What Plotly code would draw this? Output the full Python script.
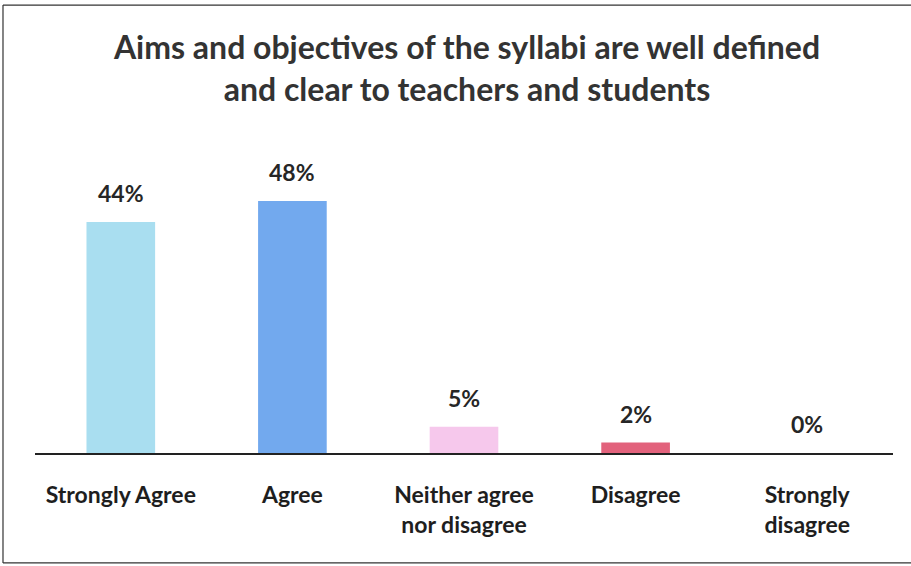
import plotly.graph_objects as go

categories = ["Strongly Agree", "Agree", "Neither agree<br>nor disagree", "Disagree", "Strongly<br>disagree"]
values = [44, 48, 5, 2, 0]
labels = ["44%", "48%", "5%", "2%", "0%"]
colors = ["#a9def0", "#72a9ee", "#f6c8ec", "#e2627c", "#cccccc"]

FONT = "Lato, 'Open Sans', sans-serif"

fig = go.Figure()
fig.add_trace(go.Bar(
    x=categories, y=values,
    marker=dict(color=colors, line=dict(width=0)),
    width=0.4,
    hoverinfo="skip",
))

for c, v, t in zip(categories, values, labels):
    fig.add_annotation(x=c, y=v, text="<b>" + t + "</b>", showarrow=False,
                       yanchor="bottom", yshift=13,
                       font=dict(family=FONT, size=23, color="#262626"))

tick_text = ["<b>" + c + "</b>" for c in categories]

fig.update_layout(
    width=911, height=566,
    margin=dict(l=35, r=18, t=138, b=113),
    paper_bgcolor="white", plot_bgcolor="white",
    showlegend=False,
    title=dict(
        text="<b>Aims and objectives of the syllabi are well defined<br>and clear to teachers and students</b>",
        x=0.5126, xanchor="center", y=0.895, yanchor="middle",
        font=dict(family=FONT, size=32, color="#333333"),
    ),
    xaxis=dict(showline=True, linecolor="#222222", linewidth=1.5, ticks="",
               tickmode="array", tickvals=categories, ticktext=tick_text,
               tickfont=dict(family=FONT, size=23, color="#1e1e1e"),
               ticklabelstandoff=21, showgrid=False),
    yaxis=dict(range=[0, 60], visible=False, showgrid=False),
    shapes=[
        dict(type="line", xref="paper", yref="paper", x0=-0.0373, x1=1.03, y0=1.422, y1=1.422,
             line=dict(color="#333333", width=1.2)),
        dict(type="line", xref="paper", yref="paper", x0=-0.0373, x1=-0.0373, y0=-0.349, y1=1.422,
             line=dict(color="#333333", width=1.2)),
        dict(type="line", xref="paper", yref="paper", x0=-0.0373, x1=1.03, y0=-0.349, y1=-0.349,
             line=dict(color="#333333", width=1.2)),
    ],
)

fig.write_html("out.html", config={"displayModeBar": False},
               post_script="document.body.style.margin='0';")
